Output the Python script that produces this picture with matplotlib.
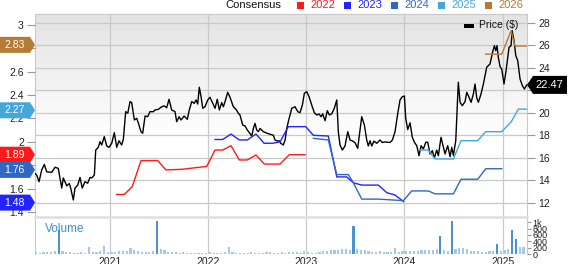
import numpy as np
import matplotlib.pyplot as plt
from matplotlib.patches import Polygon, Rectangle

plt.rcParams['font.family'] = ['Liberation Sans', 'DejaVu Sans']

W, H = 568, 264

# closing price ($), time as decimal year
price_t = [2020.240, 2020.257, 2020.281, 2020.308, 2020.335, 2020.359, 2020.410, 2020.444, 2020.477, 2020.512,
           2020.528, 2020.563, 2020.589, 2020.603, 2020.630, 2020.647, 2020.675, 2020.698, 2020.721, 2020.749,
           2020.776, 2020.800, 2020.817, 2020.844, 2020.858, 2020.884, 2020.902, 2020.919, 2020.945, 2020.970,
           2020.993, 2021.021, 2021.047, 2021.072, 2021.095, 2021.122, 2021.139, 2021.163, 2021.184, 2021.207,
           2021.224, 2021.251, 2021.275, 2021.291, 2021.319, 2021.336, 2021.360, 2021.387, 2021.410, 2021.444,
           2021.461, 2021.495, 2021.530, 2021.556, 2021.580, 2021.604, 2021.631, 2021.665, 2021.682, 2021.706,
           2021.726, 2021.757, 2021.790, 2021.810, 2021.835, 2021.861, 2021.879, 2021.896, 2021.912, 2021.930,
           2021.947, 2021.970, 2021.998, 2022.021, 2022.049, 2022.072, 2022.095, 2022.116, 2022.140, 2022.157,
           2022.174, 2022.201, 2022.225, 2022.258, 2022.286, 2022.309, 2022.326, 2022.354, 2022.377, 2022.401,
           2022.421, 2022.446, 2022.462, 2022.479, 2022.496, 2022.513, 2022.530, 2022.564, 2022.591, 2022.615,
           2022.665, 2022.683, 2022.706, 2022.727, 2022.741, 2022.767, 2022.785, 2022.802, 2022.818, 2022.853,
           2022.886, 2022.914, 2022.937, 2022.961, 2022.981, 2023.005, 2023.029, 2023.056, 2023.083, 2023.107,
           2023.131, 2023.151, 2023.168, 2023.192, 2023.215, 2023.235, 2023.260, 2023.286, 2023.311, 2023.327,
           2023.344, 2023.368, 2023.395, 2023.423, 2023.446, 2023.474, 2023.497, 2023.524, 2023.548, 2023.565,
           2023.592, 2023.616, 2023.632, 2023.650, 2023.667, 2023.690, 2023.718, 2023.751, 2023.775, 2023.802,
           2023.853, 2023.877, 2023.904, 2023.932, 2023.955, 2023.978, 2023.999, 2024.013, 2024.033, 2024.057,
           2024.080, 2024.101, 2024.125, 2024.148, 2024.169, 2024.192, 2024.217, 2024.237, 2024.260, 2024.284,
           2024.304, 2024.328, 2024.345, 2024.372, 2024.396, 2024.413, 2024.440, 2024.464, 2024.481, 2024.498,
           2024.522, 2024.548, 2024.566, 2024.589, 2024.617, 2024.634, 2024.657, 2024.678, 2024.701, 2024.718,
           2024.736, 2024.752, 2024.779, 2024.803, 2024.820, 2024.837, 2024.854, 2024.871, 2024.894, 2024.915,
           2024.929, 2024.942, 2024.955, 2024.973, 2024.990, 2025.013, 2025.034, 2025.051, 2025.064, 2025.085,
           2025.095, 2025.115, 2025.133, 2025.153, 2025.176, 2025.200, 2025.220, 2025.245]
price_v = [14.60, 14.46, 13.87, 14.90, 15.40, 14.75, 14.70, 15.15, 15.05, 13.30,
           14.20, 13.50, 13.70, 13.30, 12.24, 13.30, 13.57, 14.25, 13.30, 13.87,
           13.73, 14.25, 14.20, 14.46, 16.68, 16.92, 17.42, 17.13, 17.87, 17.04,
           16.92, 17.28, 18.22, 16.92, 17.50, 17.13, 17.63, 20.09, 19.95, 20.98,
           20.90, 19.35, 19.50, 19.11, 18.30, 18.17, 19.70, 19.65, 20.09, 20.09,
           20.24, 20.30, 20.53, 20.60, 20.44, 21.19, 20.24, 20.09, 19.20, 19.64,
           19.35, 19.70, 19.41, 20.24, 20.98, 20.83, 21.13, 20.77, 22.26, 21.42,
           20.39, 20.53, 21.13, 21.37, 20.83, 20.39, 21.19, 20.24, 20.90, 20.53,
           20.98, 21.81, 21.37, 20.53, 20.30, 19.95, 19.80, 18.90, 18.82, 18.46,
           18.22, 17.93, 18.60, 19.05, 18.46, 18.31, 18.60, 18.31, 18.22, 18.13,
           18.00, 17.57, 17.48, 17.50, 17.28, 17.13, 17.57, 18.60, 19.20, 20.39,
           20.53, 20.09, 20.00, 20.68, 21.72, 21.87, 21.42, 20.68, 20.00, 19.80,
           19.88, 19.64, 19.90, 19.29, 20.18, 19.80, 19.90, 20.39, 21.13, 18.31,
           17.13, 16.68, 17.04, 18.31, 17.57, 17.48, 17.33, 16.83, 18.46, 19.64,
           18.90, 17.57, 17.04, 17.51, 17.04, 17.48, 17.28, 17.57, 17.35, 17.40,
           17.35, 17.57, 18.31, 19.95, 21.13, 21.42, 21.48, 19.50, 18.50, 19.10,
           17.81, 17.37, 17.07, 16.18, 17.07, 16.77, 17.37, 17.37, 16.33, 16.62,
           15.97, 16.68, 16.18, 17.81, 16.92, 16.33, 17.07, 16.09, 16.92, 16.20,
           17.51, 22.70, 20.92, 20.62, 21.00, 21.81, 21.37, 20.92, 21.66, 22.55,
           21.30, 20.92, 21.66, 22.55, 23.29, 24.04, 24.18, 24.33, 25.28, 25.96,
           25.51, 25.96, 24.92, 24.09, 23.88, 22.55, 23.73, 24.92, 25.80, 25.96,
           27.30, 26.40, 25.07, 24.62, 23.00, 22.40, 22.10, 22.47]

# consensus EPS estimates per fiscal year
eps_2022_t = [2021.072, 2021.149, 2021.230, 2021.319, 2021.489, 2021.573, 2021.733, 2021.988, 2022.072,
              2022.150, 2022.235, 2022.319, 2022.401, 2022.489, 2022.574, 2022.734, 2022.828, 2022.988]
eps_2022_v = [1.55, 1.55, 1.617, 1.84, 1.84, 1.76, 1.765, 1.79, 1.93,
              1.93, 1.967, 1.845, 1.845, 1.888, 1.81, 1.81, 1.89, 1.89]

eps_2023_t = [2022.072, 2022.150, 2022.235, 2022.319, 2022.401, 2022.489, 2022.571, 2022.659, 2022.734,
              2022.818, 2022.995, 2023.073, 2023.225, 2023.311, 2023.412, 2023.480, 2023.565, 2023.734,
              2023.820, 2023.904, 2023.989]
eps_2023_v = [2.02, 2.02, 2.067, 2.016, 2.016, 2.067, 1.988, 1.988, 2.0,
              2.13, 2.13, 2.056, 2.05, 1.70, 1.70, 1.65, 1.63, 1.63,
              1.565, 1.545, 1.49]

eps_2024_t = [2023.073, 2023.225, 2023.311, 2023.429, 2023.480, 2023.565, 2023.734, 2023.989, 2024.074,
              2024.243, 2024.311, 2024.498, 2024.576, 2024.746, 2024.827, 2024.990]
eps_2024_v = [2.03, 2.016, 1.72, 1.72, 1.65, 1.51, 1.51, 1.497, 1.58,
              1.58, 1.555, 1.555, 1.68, 1.68, 1.77, 1.77]

eps_2025_t = [2024.158, 2024.243, 2024.311, 2024.498, 2024.576, 2024.746, 2024.827, 2024.990, 2025.085,
              2025.159, 2025.247]
eps_2025_v = [1.93, 1.93, 1.854, 1.854, 2.01, 2.01, 2.087, 2.087, 2.17, 2.28, 2.28]

eps_2026_t = [2024.827, 2024.990, 2025.085, 2025.125, 2025.247]
eps_2026_v = [2.75, 2.75, 2.95, 2.82, 2.82]

# last consensus values shown in the tags on the left
tag_years = ['2026', '2025', '2022', '2024', '2023']
tag_values = [2.83, 2.27, 1.89, 1.76, 1.48]
last_price = 22.47

# volume in thousands, every two weeks from 2020.25
vol_v = [60, 45, 50, 55, 60, 80, 760, 90, 55, 50, 45, 40, 50, 45, 230, 60, 70, 80, 250, 60,
         50, 70, 90, 80, 110, 200, 130, 80, 70, 60, 70, 90, 1040, 160, 120, 70, 60, 55, 45, 50,
         40, 45, 35, 40, 45, 40, 50, 40, 35, 40, 60, 210, 50, 40, 45, 35, 40, 50, 35, 40,
         45, 50, 55, 40, 45, 50, 40, 60, 55, 50, 45, 80, 60, 45, 40, 50, 110, 90, 120, 130,
         140, 170, 150, 130, 880, 160, 140, 120, 80, 60, 70, 80, 60, 70, 60, 200, 70, 80, 90, 100,
         90, 110, 120, 130, 140, 130, 150, 570, 130, 100, 1040, 150, 180, 200, 150, 110, 80, 90, 70, 60,
         80, 100, 310, 90, 120, 150, 760, 475, 230, 210]

years = [2021, 2022, 2023, 2024, 2025]
price_ticks = [12, 14, 16, 18, 20, 22, 24, 26, 28]
eps_ticks = [1.4, 1.6, 1.8, 2.0, 2.2, 2.4, 2.6, 2.8, 3.0]
# tick labels fully hidden under the value tags
hidden_eps = [1.8, 2.8]
hidden_price = [22]

colors = {'2022': '#ff1a1a', '2023': '#2323ff', '2024': '#2e68c4', '2025': '#45a6da', '2026': '#b57a33'}
grid_c = '#c9c9c9'


def fig_pt(x, y):
    # pixel position from top left -> figure fraction
    return x / W, 1 - y / H


def add_tag(fig, pts, color, text, tx, ty, size=7.5):
    poly = Polygon([fig_pt(x, y) for x, y in pts], closed=True, transform=fig.transFigure,
                   facecolor=color, edgecolor='none', zorder=5)
    fig.add_artist(poly)
    fig.text(*fig_pt(tx, ty), text, color='white', fontsize=size, ha='center', va='center', zorder=6)


def main():
    fig = plt.figure(figsize=(W / 100, H / 100), dpi=100)
    x0, x1 = 35, 527

    axp = fig.add_axes([x0 / W, 1 - 217 / H, (x1 - x0) / W, 203 / H])
    axe = axp.twinx()
    axv = fig.add_axes([x0 / W, 1 - 254 / H, (x1 - x0) / W, 35 / H])

    # background gradient
    f = np.linspace(0, 1, 200)
    g = 0.89 + 0.11 * np.clip(f / 0.6, 0, 1)
    grad = np.dstack([g, g, g])[0][:, None, :]
    axp.imshow(grad, extent=[0, 1, 0, 1], transform=axp.transAxes, aspect='auto', zorder=0)

    axp.plot(price_t, price_v, color='black', lw=1.0, zorder=3)
    axe.plot(eps_2022_t, eps_2022_v, color=colors['2022'], lw=1.0)
    axe.plot(eps_2023_t, eps_2023_v, color=colors['2023'], lw=1.0)
    axe.plot(eps_2024_t, eps_2024_v, color=colors['2024'], lw=1.0)
    axe.plot(eps_2025_t, eps_2025_v, color=colors['2025'], lw=1.0)
    axe.plot(eps_2026_t, eps_2026_v, color=colors['2026'], lw=1.0)

    xlim = (2020.24, 2025.247)
    axp.set_xlim(*xlim)
    axv.set_xlim(*xlim)
    axp.set_ylim(10.73, 28.77)
    axe.set_ylim(1.357, 3.094)

    axp.yaxis.tick_right()
    axe.yaxis.tick_left()
    axp.set_yticks(price_ticks)
    axp.set_yticklabels(['' if v in hidden_price else str(v) for v in price_ticks])
    axe.set_yticks(eps_ticks)
    axe.set_yticklabels(['' if v in hidden_eps else f'{v:g}' for v in eps_ticks])
    axp.set_xticks(years)
    axp.tick_params(axis='x', length=0, labelbottom=False)
    axp.tick_params(axis='y', length=6, color='#999999', labelsize=7.5, labelcolor='#222222', pad=2)
    axe.tick_params(axis='y', length=6, color='#999999', labelsize=7.5, labelcolor='#222222', pad=2)
    axp.grid(True, color=grid_c, lw=0.9)
    for s in ['left', 'right', 'top']:
        axp.spines[s].set_color(grid_c)
    axp.spines['bottom'].set_color('#dedede')
    axp.spines['bottom'].set_linewidth(1.8)
    for s in axe.spines.values():
        s.set_visible(False)

    # volume panel
    vol_t = 2020.25 + np.arange(len(vol_v)) / 26
    bar_c = ['#4b92d2' if v >= 300 else '#a4c8ea' for v in vol_v]
    axv.bar(vol_t, vol_v, width=0.022, color=bar_c, zorder=2)
    axv.set_ylim(0, 1100)
    axv.yaxis.tick_right()
    axv.set_yticks([0, 200, 400, 600, 800, 1000])
    axv.set_yticklabels(['0', '200', '400', '600', '800', '1k'])
    axv.set_xticks(years)
    axv.set_xticklabels([str(y) for y in years])
    axv.tick_params(axis='x', length=0, labelsize=7.5, labelcolor='#222222', pad=2)
    axv.tick_params(axis='y', length=3, color='#999999', labelsize=6.5, labelcolor='#222222', pad=1)
    axv.grid(True, axis='x', color=grid_c, lw=0.9, zorder=0)
    axv.set_axisbelow(True)
    axv.spines['top'].set_visible(False)
    axv.spines['bottom'].set_visible(False)
    axv.spines['left'].set_color(grid_c)
    axv.spines['right'].set_color(grid_c)
    fig.text(*fig_pt(45, 229), 'Volume', color='#3d8fcc', fontsize=8.5, va='center')

    # legend across the top
    fig.text(*fig_pt(225, 5), 'Consensus', color='#111111', fontsize=8, va='center')
    leg_x = [297, 344, 391, 438, 485]
    for lx, yr in zip(leg_x, ['2022', '2023', '2024', '2025', '2026']):
        fig.add_artist(Rectangle(fig_pt(lx, 9), 7 / W, 7 / H, transform=fig.transFigure,
                                 facecolor=colors[yr], edgecolor='none'))
        fig.text(*fig_pt(lx + 13, 5), yr, color=colors[yr], fontsize=8, va='center')

    # price legend inside the plot
    fig.add_artist(Rectangle(fig_pt(464, 28), 10 / W, 4 / H, transform=fig.transFigure,
                             facecolor='black', edgecolor='none', zorder=5))
    fig.text(*fig_pt(479, 25.5), 'Price ($)', color='#111111', fontsize=7.5, va='center', zorder=5)

    # value tags on the left
    for yr, v in zip(tag_years, tag_values):
        yc = H - axe.transData.transform((xlim[0], v))[1]
        pts = [(0, yc - 8), (30, yc - 8), (35, yc), (30, yc + 8), (0, yc + 8)]
        add_tag(fig, pts, colors[yr], f'{v:.2f}', 14.5, yc)

    # last price tag on the right
    yc = H - axp.transData.transform((xlim[1], last_price))[1]
    pts = [(527, yc), (533, yc - 9), (567, yc - 9), (567, yc + 9), (533, yc + 9)]
    add_tag(fig, pts, '#000000', f'{last_price:.2f}', 549.5, yc, size=8)

    fig.savefig('out.png', dpi=100)


if __name__ == '__main__':
    main()
